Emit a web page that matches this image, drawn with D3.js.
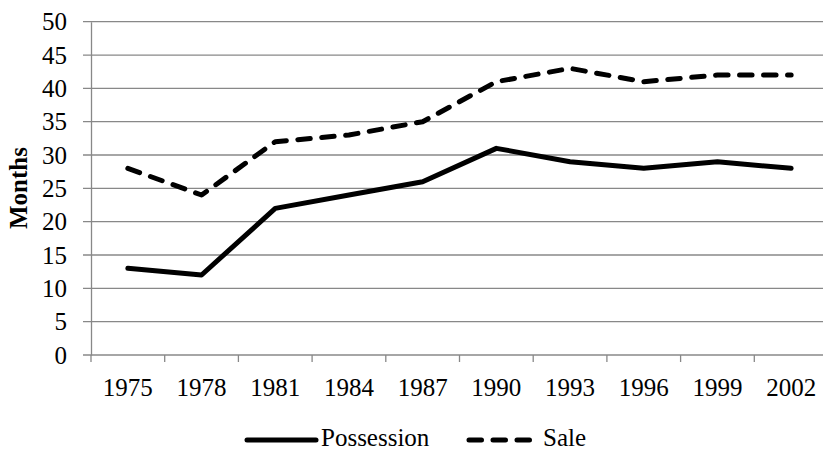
<!DOCTYPE html>
<html><head><meta charset="utf-8">
<script src="https://cdn.jsdelivr.net/npm/d3@7"></script>
<style>
html,body{margin:0;padding:0;background:#fff;overflow:hidden}
svg text{font-family:"Liberation Serif","Times New Roman","DejaVu Serif",serif !important;fill:#000}
</style></head>
<body><svg id="c" width="823" height="451"></svg>
<script>
const years = ["1975","1978","1981","1984","1987","1990","1993","1996","1999","2002"];
const possession = [13,12,22,24,26,31,29,28,29,28];
const sale = [28,24,32,33,35,41,43,41,42,42];
const yTicks = [0,5,10,15,20,25,30,35,40,45,50];

const FONT = '"Liberation Serif","Times New Roman",serif';
const svg = d3.select("#c");
const pLeft = 91, pTop = 21.7, pBottom = 355, pWidth = 737;
const x = d3.scaleBand().domain(years).range([pLeft, pLeft + pWidth]);
const y = d3.scaleLinear().domain([0,50]).range([pBottom, pTop]);
const gray = "#888";
const LW = 5;

// gridlines
svg.append("g").selectAll("line").data(yTicks).join("line")
  .attr("x1", pLeft - 8).attr("x2", pLeft + pWidth)
  .attr("y1", d => y(d)).attr("y2", d => y(d))
  .attr("stroke", gray).attr("stroke-width", 1.3);

// y axis
const yAxis = svg.append("g").attr("transform", `translate(${pLeft},0)`)
  .call(d3.axisLeft(y).tickValues(yTicks).tickSize(0).tickPadding(24));
yAxis.attr("font-family", FONT).attr("font-size", 25);
yAxis.select(".domain").attr("stroke", gray).attr("stroke-width", 1.3);
yAxis.selectAll("text").style("font-size", "25px").style("font-family", FONT);

// x axis
const xAxis = svg.append("g").attr("transform", `translate(0,${pBottom})`)
  .call(d3.axisBottom(x).tickSize(0).tickPadding(23));
xAxis.attr("font-family", FONT).attr("font-size", 25);
xAxis.select(".domain").remove();
xAxis.selectAll("text").style("font-size", "25px").style("font-family", FONT);
// ticks between categories
svg.append("g").selectAll("line").data(years).join("line")
  .attr("x1", d => x(d)).attr("x2", d => x(d))
  .attr("y1", pBottom).attr("y2", pBottom + 7)
  .attr("stroke", gray).attr("stroke-width", 1.3);

// y label
svg.append("text").attr("transform", "translate(27,188) rotate(-90)")
  .attr("text-anchor", "middle").style("font-size", "25px").style("font-weight", "bold")
  .style("font-family", FONT)
  .text("Months");

const line = d3.line().x((d, i) => x(years[i]) + x.bandwidth() / 2).y(d => y(d));
svg.append("path").datum(possession).attr("d", line)
  .attr("fill", "none").attr("stroke", "#000").attr("stroke-width", LW)
  .attr("stroke-linejoin", "round").attr("stroke-linecap", "round");
svg.append("path").datum(sale).attr("d", line)
  .attr("fill", "none").attr("stroke", "#000").attr("stroke-width", LW)
  .attr("stroke-dasharray", "12.5,11.5").attr("stroke-linecap", "round")
  .attr("stroke-linejoin", "round");

// legend
const ly = 440;
const lg = svg.append("g");
lg.append("line").attr("x1", 247).attr("x2", 316).attr("y1", ly).attr("y2", ly)
  .attr("stroke", "#000").attr("stroke-width", LW).attr("stroke-linecap", "round");
lg.append("text").attr("x", 321).attr("y", 445.5)
  .style("font-size", "25px").style("font-family", FONT).text("Possession");
lg.append("line").attr("x1", 469).attr("x2", 530).attr("y1", ly).attr("y2", ly)
  .attr("stroke", "#000").attr("stroke-width", LW).attr("stroke-linecap", "round")
  .attr("stroke-dasharray", "12.5,11.5");
lg.append("text").attr("x", 543).attr("y", 445.5)
  .style("font-size", "25px").style("font-family", FONT).text("Sale");
</script></body></html>
